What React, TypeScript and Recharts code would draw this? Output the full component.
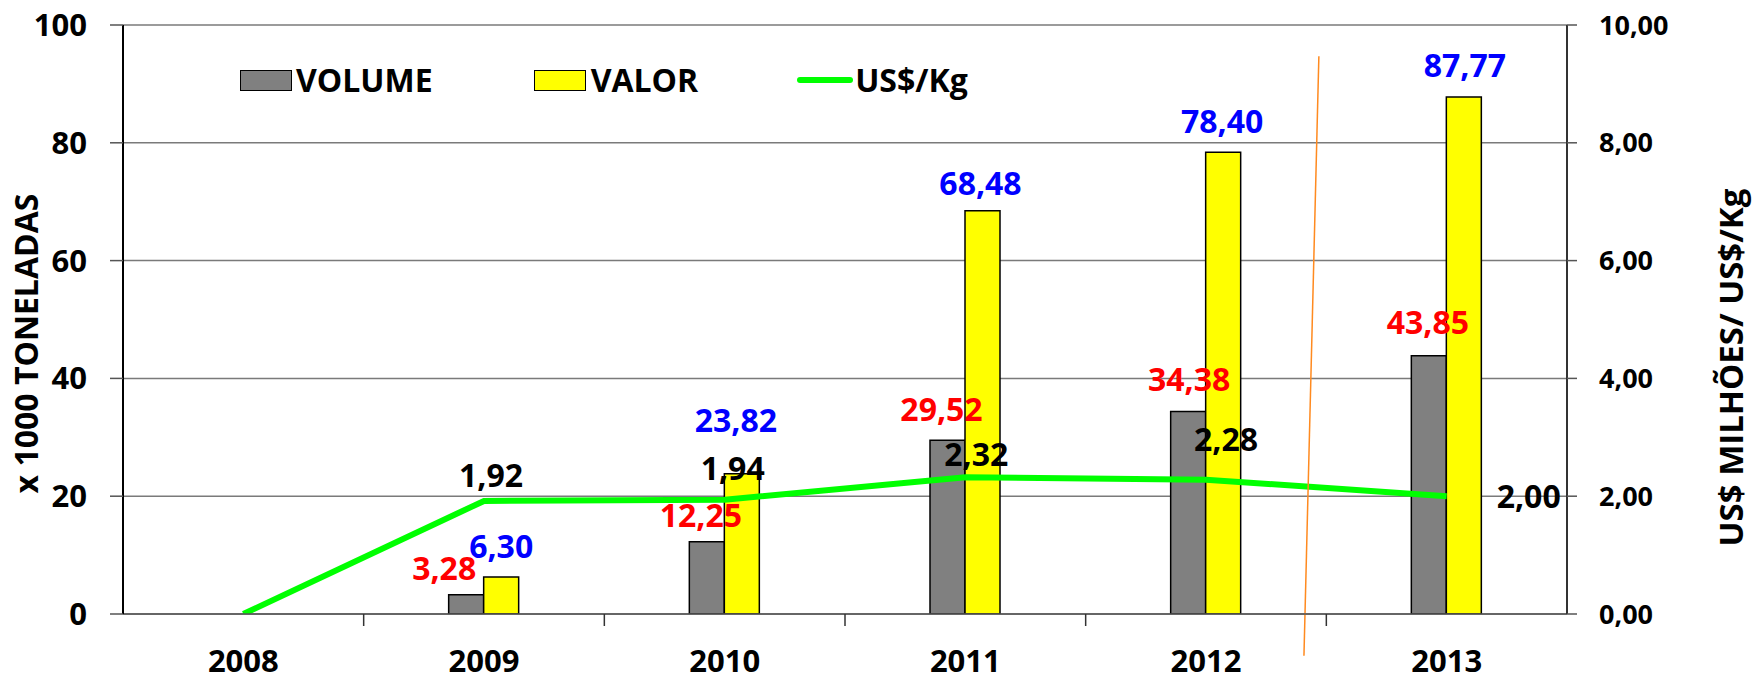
import {
  Bar,
  CartesianGrid,
  ComposedChart,
  Label,
  LabelList,
  Legend,
  Line,
  ReferenceLine,
  XAxis,
  YAxis,
} from 'recharts'

const years = ['2008', '2009', '2010', '2011', '2012', '2013']
const volume = [0, 3.28, 12.25, 29.52, 34.38, 43.85]
const valor = [0, 6.3, 23.82, 68.48, 78.4, 87.77]
const usdPerKg = [0, 1.92, 1.94, 2.32, 2.28, 2.0]
const leftTicks = [0, 20, 40, 60, 80, 100]
const rightTicks = [0, 2, 4, 6, 8, 10]
const yearBounds = [0.5, 1.5, 2.5, 3.5, 4.5]

const data = years.map((year, i) => ({
  year,
  slot: i,
  volume: volume[i],
  valor: valor[i],
  usdKg: usdPerKg[i],
}))

// labels were dragged by hand in the original sheet: [dx, dy] from the top centre of each mark
const volumeNudge = [[0, 0], [-22, -26], [-6, -26], [-6, -31], [1, -32], [-1, -33]]
const valorNudge = [[0, 0], [0, -30], [-6, -53], [-2, -27], [-1, -31], [1, -32]]
const priceNudge = [[0, 0], [7, -25], [8, -31], [11, -23], [20, -40], [82, 0]]

// the orange cut mark between 2012 and 2013 (x in year slots, y on the left axis)
const cutMark = [
  { x: 4.469, y: 94.7 },
  { x: 4.407, y: -7.1 },
]

const font = '"Open Sans", sans-serif'
const fmt = (v: number) => v.toFixed(2).replace('.', ',')

function nudgedLabel(color: string, series: number[], nudge: number[][], isBar: boolean) {
  return (props: any) => {
    const vb = props.viewBox || {}
    const x = Number(vb.x ?? props.x)
    const y = Number(vb.y ?? props.y)
    const w = isBar ? Number(vb.width ?? props.width ?? 0) : 0
    const value = Number(props.value)
    if (!value) return null
    const i = series.indexOf(value)
    const [dx, dy] = nudge[i] || [0, 0]
    return (
      <text
        x={x + w / 2 + dx}
        y={y + dy}
        dy="0.36em"
        textAnchor="middle"
        fill={color}
        fontSize={32}
        fontWeight={700}
        fontFamily={font}
      >
        {fmt(value)}
      </text>
    )
  }
}

function ChartLegend() {
  return (
    <div
      style={{
        display: 'flex',
        alignItems: 'center',
        fontFamily: font,
        fontWeight: 700,
        fontSize: 32,
        lineHeight: 1,
        color: '#000',
        whiteSpace: 'nowrap',
      }}
    >
      <span style={{ width: 52, height: 21, background: '#808080', border: '1.5px solid #000', boxSizing: 'border-box' }} />
      <span style={{ marginLeft: 4 }}>VOLUME</span>
      <span
        style={{ marginLeft: 101, width: 52, height: 21, background: '#ffff00', border: '1.5px solid #000', boxSizing: 'border-box' }}
      />
      <span style={{ marginLeft: 5 }}>VALOR</span>
      <span style={{ marginLeft: 99, width: 56, height: 6, borderRadius: 3, background: '#00ff00' }} />
      <span style={{ marginLeft: 2 }}>US$/Kg</span>
    </div>
  )
}

const tickFont = { fontFamily: font, fontWeight: 700, fill: '#000' }

export default function App() {
  return (
    <div style={{ position: 'absolute', left: 0, top: 0, width: 1752, height: 677, background: '#fff', fontFamily: font }}>
      <ComposedChart
        width={1752}
        height={677}
        data={data}
        margin={{ top: 25, right: 0, bottom: 0, left: 0 }}
        barGap={0}
        barSize={35}
      >
        <CartesianGrid vertical={false} stroke="#7a7a7a" strokeWidth={1.5} xAxisId="cat" yAxisId="left" />
        <XAxis
          xAxisId="cat"
          dataKey="year"
          axisLine={false}
          tickLine={false}
          tickSize={0}
          tickMargin={35}
          height={62}
          interval={0}
          tick={{ ...tickFont, fontSize: 31 }}
        />
        {/* year boundary ticks and the baseline, sits right on the plot edge */}
        <XAxis
          xAxisId="b"
          dataKey="slot"
          type="number"
          domain={['dataMin - 0.5', 'dataMax + 0.5']}
          ticks={yearBounds}
          tickFormatter={() => ''}
          tickSize={12}
          height={1}
          axisLine={{ stroke: '#555', strokeWidth: 1.5 }}
          tickLine={{ stroke: '#333', strokeWidth: 1.5 }}
        />
        <YAxis
          yAxisId="left"
          domain={[0, 100]}
          ticks={leftTicks}
          allowDataOverflow
          width={123}
          tickSize={13}
          tickMargin={23}
          interval={0}
          axisLine={{ stroke: '#000', strokeWidth: 2 }}
          tickLine={{ stroke: '#555', strokeWidth: 1.5 }}
          tick={{ ...tickFont, fontSize: 31 }}
        >
          <Label
            content={(p: any) => {
              const vb = p.viewBox
              const cx = vb.x + 38
              const cy = vb.y + vb.height / 2 + 24
              return (
                <text
                  x={cx}
                  y={cy}
                  transform={`rotate(-90 ${cx} ${cy})`}
                  textAnchor="middle"
                  fontSize={32}
                  fontWeight={700}
                  fontFamily={font}
                  fill="#000"
                >
                  x 1000 TONELADAS
                </text>
              )
            }}
          />
        </YAxis>
        <YAxis
          yAxisId="right"
          orientation="right"
          domain={[0, 10]}
          ticks={rightTicks}
          allowDataOverflow
          width={185}
          tickSize={10}
          tickMargin={22}
          interval={0}
          tickFormatter={fmt}
          axisLine={{ stroke: '#333', strokeWidth: 2 }}
          tickLine={{ stroke: '#555', strokeWidth: 1.5 }}
          tick={{ ...tickFont, fontSize: 27, textAnchor: 'start' }}
        >
          <Label
            content={(p: any) => {
              const vb = p.viewBox
              const cx = vb.x + 176
              const cy = vb.y + vb.height / 2 + 48
              return (
                <text
                  x={cx}
                  y={cy}
                  transform={`rotate(-90 ${cx} ${cy})`}
                  textAnchor="middle"
                  fontSize={33}
                  fontWeight={700}
                  fontFamily={font}
                  fill="#000"
                >
                  US$ MILHÕES/ US$/Kg
                </text>
              )
            }}
          />
        </YAxis>
        <Legend
          verticalAlign="top"
          content={() => <ChartLegend />}
          wrapperStyle={{ position: 'absolute', top: 64, left: 240, width: 'auto', height: 0 }}
        />
        <Bar dataKey="volume" name="VOLUME" xAxisId="cat" yAxisId="left" fill="#808080" stroke="#000" strokeWidth={1.5} isAnimationActive={false}>
          <LabelList dataKey="volume" content={nudgedLabel('#ff0000', volume, volumeNudge, true)} />
        </Bar>
        <Bar dataKey="valor" name="VALOR" xAxisId="cat" yAxisId="left" fill="#ffff00" stroke="#000" strokeWidth={1.5} isAnimationActive={false}>
          <LabelList dataKey="valor" content={nudgedLabel('#0000ff', valor, valorNudge, true)} />
        </Bar>
        <Line
          dataKey="usdKg"
          name="US$/Kg"
          xAxisId="cat"
          yAxisId="right"
          type="linear"
          stroke="#00ff00"
          strokeWidth={6}
          dot={false}
          isAnimationActive={false}
        >
          <LabelList dataKey="usdKg" content={nudgedLabel('#000', usdPerKg, priceNudge, false)} />
        </Line>
        <ReferenceLine
          xAxisId="b"
          yAxisId="left"
          segment={cutMark}
          ifOverflow="visible"
          stroke="#ff8a1f"
          strokeWidth={1.5}
        />
      </ComposedChart>
    </div>
  )
}
